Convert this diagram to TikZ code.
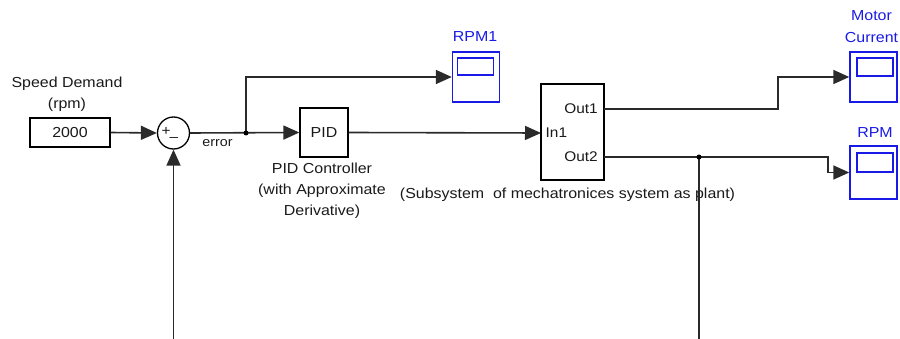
\documentclass[tikz,border=0pt]{standalone}
\usepackage{fontspec}
\setmainfont{Liberation Sans}[FakeStretch=1.1]
\usetikzlibrary{arrows.meta}
\definecolor{wirec}{HTML}{2A2A2A}
\definecolor{textc}{HTML}{1A1A1A}
\definecolor{scopec}{HTML}{1A1AE6}
\begin{document}
\begin{tikzpicture}[x=1pt,y=-1pt,
  wire/.style={draw=wirec, line width=1.6pt, -{Triangle[length=16pt,width=14pt]}},
  plainwire/.style={draw=wirec, line width=1.6pt},
  block/.style={draw=black, line width=1.3pt, fill=white, inner sep=0pt, font=\fontsize{14.5}{17}\selectfont, text=textc},
  scopebox/.style={draw=scopec, line width=1.4pt, fill=white, inner sep=0pt, minimum width=47pt},
  scopescreen/.style={draw=scopec, line width=1.4pt, inner sep=0pt, minimum width=36pt},
  lbl/.style={font=\fontsize{14.5}{21}\selectfont, text=textc, align=center, inner sep=0pt},
  slbl/.style={font=\fontsize{14.5}{22}\selectfont, text=scopec, align=center, inner sep=0pt},
  plbl/.style={font=\fontsize{14}{15}\selectfont, text=textc, inner sep=0pt},
  dot/.style={circle, fill=black, inner sep=0pt, minimum size=5pt}]
\useasboundingbox (0,0) rectangle (900,339);

% constant
\node[block, minimum width=80pt, minimum height=29pt] (const) at (70,132.5) {2000};
\node[lbl] (constlbl) at (67,94.5) {Speed Demand\\(rpm)};

% sum
\node[circle, draw=black, line width=1.3pt, minimum size=32pt, inner sep=0pt] (sum) at (173.5,133) {};
\node[plbl] (plus) at (166,131) {+};
\node[plbl] (minus) at (174,139) {–};
\node[font=\fontsize{13}{14}\selectfont, text=textc, inner sep=0pt] (errlbl) at (217.5,143) {error};

% PID
\node[block, minimum width=48pt, minimum height=49pt] (pid) at (324,132.5) {PID};
\node[lbl] (pidlbl) at (322,191) {PID Controller\\(with Approximate\\Derivative)};

% plant
\node[block, minimum width=63pt, minimum height=96pt] (plant) at (572.5,132) {};
\node[plbl, anchor=west] (in1) at (545.5,133) {In1};
\node[plbl, anchor=east] (out1) at (598,109) {Out1};
\node[plbl, anchor=east] (out2) at (598,157) {Out2};
\node[lbl] (plantlbl) at (567.5,195) {(Subsystem\ \ of mechatronices system as plant)};
\coordinate (pin) at (541,133);
\coordinate (pout1) at (604,109);
\coordinate (pout2) at (604,157);

% scopes
\node[scopebox, minimum height=50pt] (rpm1) at (476,77) {};
\node[scopescreen, minimum height=17pt] (rpm1scr) at (475.5,66.5) {};
\node[slbl] (rpm1lbl) at (475,37) {RPM1};

\node[scopebox, minimum height=50pt] (mc) at (873.5,77) {};
\node[scopescreen, minimum height=18pt] (mcscr) at (875,67) {};
\node[slbl] (mclbl) at (871.5,27) {Motor\\Current};

\node[scopebox, minimum height=53pt] (rpm) at (873.5,172.5) {};
\node[scopescreen, minimum height=19pt] (rpmscr) at (875,162.5) {};
\node[slbl] (rpmlbl) at (875,133) {RPM};

% junctions
\coordinate (jn) at (246,133);
\coordinate (tap) at (699,157);
\coordinate (fbstart) at (173.5,339);
\coordinate (tapend) at (699,339);

% connectors
\draw[wire] (const.east) -- (sum.west);
\draw[wire] (sum.east) -- (pid.west);
\draw[wire] (jn) |- (rpm1.west);
\draw[wire] (pid.east) -- (pin);
\draw[wire] (pout1) -- ++(174,0) |- (mc.west);
\draw[wire] (pout2) -- ++(224,0) |- (rpm.west);
\draw[plainwire] (tap) -- (tapend);
\draw[wire] (fbstart) -- (sum.south);
\node[dot] (jndot) at (jn) {};
\node[dot] (tapdot) at (tap) {};
\end{tikzpicture}
\end{document}
